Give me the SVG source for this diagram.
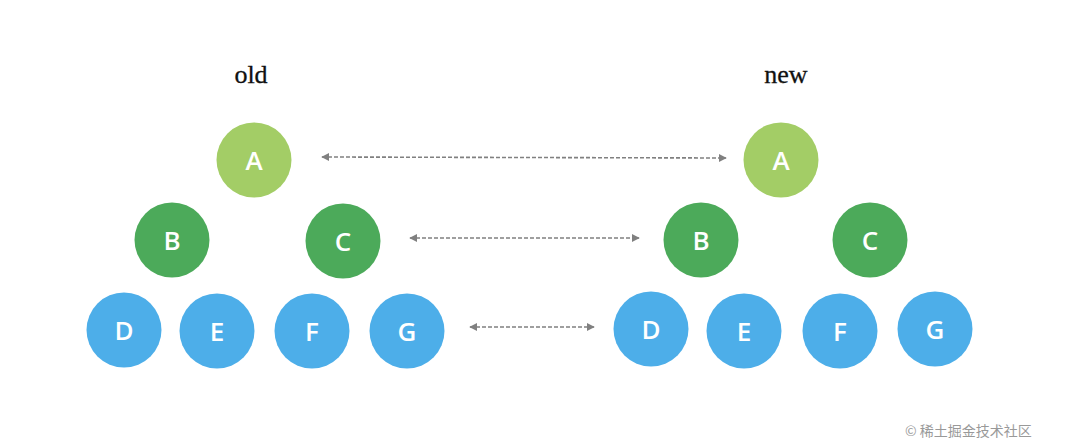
<svg xmlns="http://www.w3.org/2000/svg" width="1080" height="440" viewBox="0 0 1080 440">
<style>
.title{font-family:"Liberation Serif","DejaVu Serif",serif;font-size:26px;fill:#111;text-anchor:middle;stroke:#111;stroke-width:0.3}
.lbl{font-family:"Open Sans","Liberation Sans",sans-serif;font-size:26px;font-weight:600;fill:#fff;text-anchor:middle;dominant-baseline:central}
.a{fill:#a3cd66}
.bc{fill:#4caa5a}
.leaf{fill:#4daee9}
.conn{stroke:#808080;stroke-width:1.6;stroke-dasharray:4 2;fill:none;marker-start:url(#ah);marker-end:url(#ah)}
.wm{font-family:"Noto Sans CJK SC","Liberation Sans",sans-serif;font-size:14px;fill:#999}
</style>
<defs>
<marker id="ah" viewBox="0 0 10 10" refX="9" refY="5" markerWidth="5" markerHeight="5" orient="auto-start-reverse" markerUnits="strokeWidth">
<path d="M0,0 L10,5 L0,10 z" fill="#808080"/>
</marker>
</defs>
<rect width="1080" height="440" fill="#fff"/>
<text class="title" x="251" y="83">old</text>
<text class="title" x="786" y="83">new</text>
<g id="connectors">
<line class="conn" x1="322" y1="157" x2="726" y2="158"/>
<line class="conn" x1="410" y1="238" x2="639" y2="238"/>
<line class="conn" x1="470" y1="327" x2="594" y2="327"/>
</g>
<g id="oldA"><circle class="a" cx="254" cy="160" r="37.5"/><text class="lbl" x="254" y="160">A</text></g>
<g id="oldB"><circle class="bc" cx="172" cy="240" r="37.5"/><text class="lbl" x="172" y="240">B</text></g>
<g id="oldC"><circle class="bc" cx="343" cy="241" r="37.5"/><text class="lbl" x="343" y="241">C</text></g>
<g id="oldD"><circle class="leaf" cx="124" cy="330" r="37.5"/><text class="lbl" x="124" y="330">D</text></g>
<g id="oldE"><circle class="leaf" cx="217" cy="331" r="37.5"/><text class="lbl" x="217" y="331">E</text></g>
<g id="oldF"><circle class="leaf" cx="312" cy="331" r="37.5"/><text class="lbl" x="312" y="331">F</text></g>
<g id="oldG"><circle class="leaf" cx="407" cy="331" r="37.5"/><text class="lbl" x="407" y="331">G</text></g>
<g id="newA"><circle class="a" cx="781" cy="160" r="37.5"/><text class="lbl" x="781" y="160">A</text></g>
<g id="newB"><circle class="bc" cx="701" cy="240" r="37.5"/><text class="lbl" x="701" y="240">B</text></g>
<g id="newC"><circle class="bc" cx="870" cy="240" r="37.5"/><text class="lbl" x="870" y="240">C</text></g>
<g id="newD"><circle class="leaf" cx="651" cy="329" r="37.5"/><text class="lbl" x="651" y="329">D</text></g>
<g id="newE"><circle class="leaf" cx="744" cy="331" r="37.5"/><text class="lbl" x="744" y="331">E</text></g>
<g id="newF"><circle class="leaf" cx="840" cy="331" r="37.5"/><text class="lbl" x="840" y="331">F</text></g>
<g id="newG"><circle class="leaf" cx="935" cy="329" r="37.5"/><text class="lbl" x="935" y="329">G</text></g>
<text class="wm" x="905" y="436">© 稀土掘金技术社区</text>
</svg>
